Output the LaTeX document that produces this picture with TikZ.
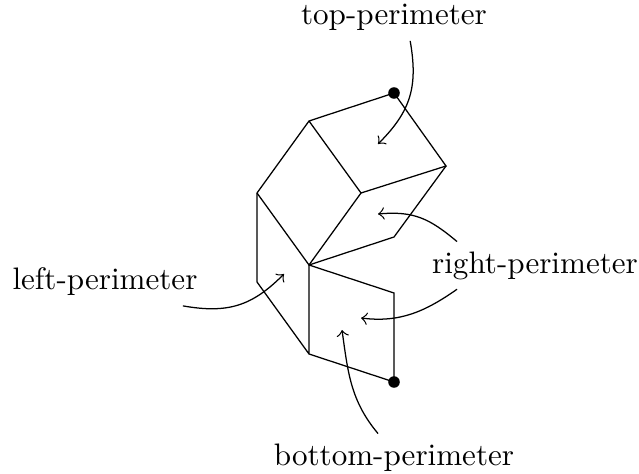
\documentclass[tikz,border=0pt]{standalone}
\tikzset{
    perimlabel/.style={anchor=base, scale=0.84, inner sep=3pt},
    perimdot/.style={circle, fill=black, inner sep=0pt, minimum size=1.1mm},
}
\begin{document}
\begin{tikzpicture}[x=0.095mm, y=-0.095mm, line width=0.34pt]
    \useasboundingbox (0,0) rectangle (639,473);
    % Corners
    \coordinate (hub) at (309,265);
    \coordinate (topleft) at (309,121);
    \coordinate (west) at (257,193);
    \coordinate (mid) at (361,193);
    \coordinate (east) at (446,166);
    \coordinate (rightlow) at (394,237);
    \coordinate (westlow) at (257,282);
    \coordinate (south) at (309,354);
    \coordinate (bottomup) at (394,293);
    \node[perimdot] (topdot) at (394,93) {};
    \node[perimdot] (bottomdot) at (394,382) {};
    % Faces
    \draw (west) -- (topleft) -- (topdot.center) -- (east) -- (mid) -- (topleft);
    \draw (mid) -- (hub) -- (west);
    \draw (east) -- (rightlow) -- (hub);
    \draw (west) -- (westlow) -- (south) -- (bottomdot.center) -- (bottomup) -- (hub) -- (south);
    % Labels
    \node[perimlabel] (toplabel) at (394,25) {top-perimeter};
    \node[perimlabel] (leftlabel) at (105,290) {left-perimeter};
    \node[perimlabel] (rightlabel) at (535,273) {right-perimeter};
    \node[perimlabel] (bottomlabel) at (394,465) {bottom-perimeter};
    % Targets
    \coordinate (toparea) at (378,144);
    \coordinate (rightarea) at (378,214);
    \coordinate (bottomarea) at (361,318);
    \coordinate (bottomarea2) at (342,330);
    \coordinate (leftarea) at (284,274);
    % Arrows
    \draw[->] (toplabel.-55) to[out=-80, in=45, looseness=1.1] (toparea);
    \draw[->] (rightlabel.163) to[out=140, in=5, looseness=1.1] (rightarea);
    \draw[->] (rightlabel.-163) to[out=-145, in=-7] (bottomarea);
    \draw[->] (bottomlabel.124) to[out=130, in=-82] (bottomarea2);
    \draw[->] (leftlabel.-17) to[out=-10, in=-135, looseness=1.1] (leftarea);
\end{tikzpicture}
\end{document}
